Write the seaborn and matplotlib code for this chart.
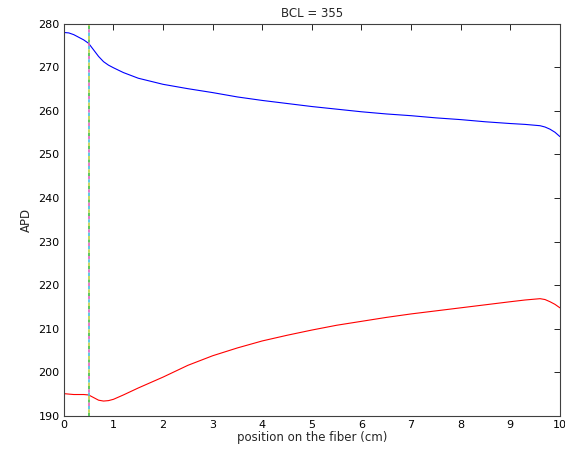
import numpy as np
import pandas as pd
import matplotlib
matplotlib.use("Agg")
import matplotlib.pyplot as plt
import seaborn as sns

# values
position = [0, 0.1, 0.2, 0.3, 0.4, 0.5, 0.6, 0.7, 0.8, 0.9, 1.0, 1.2, 1.5, 2, 2.5, 3,
            3.5, 4, 4.5, 5, 5.5, 6, 6.5, 7, 7.5, 8, 8.5, 9, 9.3, 9.6, 9.7, 9.8, 9.9, 10]
apd_upper = [278.0, 277.9, 277.5, 276.9, 276.3, 275.5, 274.0, 272.5, 271.3, 270.5, 269.9,
             268.8, 267.5, 266.1, 265.1, 264.2, 263.2, 262.4, 261.7, 261.0, 260.4, 259.8,
             259.3, 258.9, 258.4, 258.0, 257.5, 257.1, 256.9, 256.6, 256.3, 255.8, 255.1, 254.1]
apd_lower = [195.1, 195.0, 194.9, 194.9, 194.9, 194.8, 194.2, 193.6, 193.4, 193.5, 193.8,
             194.8, 196.4, 198.9, 201.6, 203.8, 205.6, 207.2, 208.5, 209.7, 210.8, 211.7,
             212.6, 213.4, 214.1, 214.8, 215.5, 216.2, 216.6, 216.9, 216.7, 216.2, 215.6, 214.8]
stim_pos = 0.5
bcl = 355

sns.set_style("white")
plt.rcParams["font.family"] = ["DejaVu Sans"]

fig = plt.figure(figsize=(5.65, 4.57), dpi=100)
ax = fig.add_axes([0.113, 0.09, 0.878, 0.858])

df = pd.DataFrame({"x": position, "upper": apd_upper, "lower": apd_lower})
sns.lineplot(data=df, x="x", y="upper", color="blue", linewidth=0.8, ax=ax)
sns.lineplot(data=df, x="x", y="lower", color="red", linewidth=0.8, ax=ax)

# multicolour dashed marker at the stimulus site
line_cols = ["#40c040", "#e060c0", "#40c0e0", "#c0d040"]
for i, c in enumerate(line_cols):
    ax.axvline(stim_pos, color=c, linewidth=1.2, linestyle=(i * 2.0, (2.0, 6.0)))

ax.set_xlim(0, 10)
ax.set_ylim(190, 280)
ax.set_xticks(range(0, 11))
ax.set_yticks(range(190, 281, 10))
ax.tick_params(direction="in", top=True, right=True, length=4, width=0.6,
               labelsize=8, pad=3, colors="black")
for s in ax.spines.values():
    s.set_color("#404040")
    s.set_linewidth(0.8)

ax.set_title(f"BCL = {bcl}", fontsize=8.5, pad=5)
ax.set_xlabel("position on the fiber (cm)", fontsize=8.5, labelpad=1)
ax.set_ylabel("APD", fontsize=8.5, labelpad=4)

fig.savefig("out.png", dpi=100)
